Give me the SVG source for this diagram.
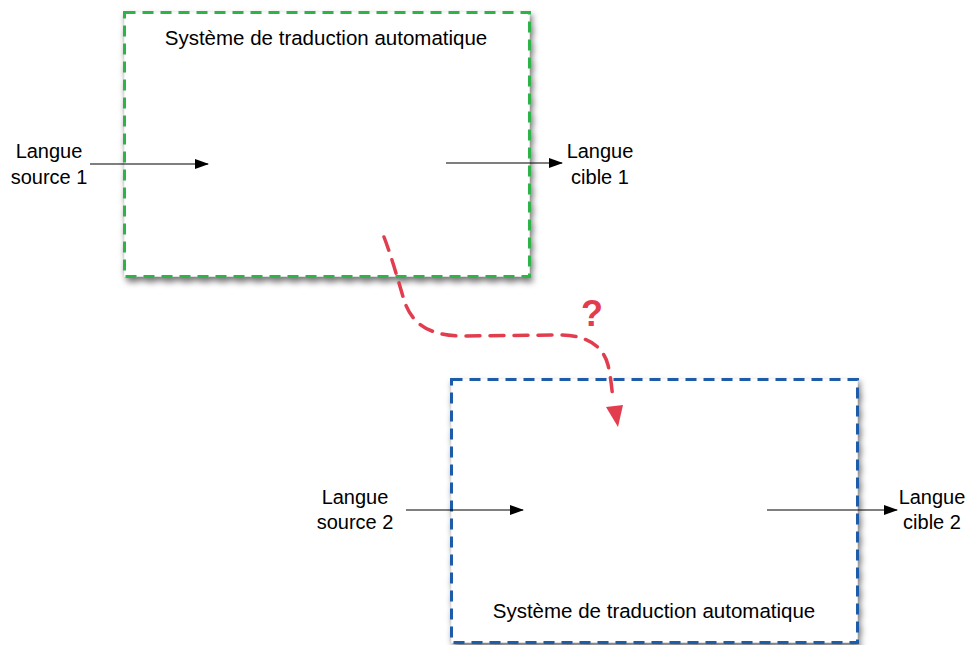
<svg xmlns="http://www.w3.org/2000/svg" width="966" height="645" viewBox="0 0 966 645">
<style>
text{font-family:"Liberation Sans",Arial,sans-serif;font-size:20px;fill:#000}
.box{fill:#fff;stroke-width:3;stroke-dasharray:11 7;filter:url(#sh)}
.ar{stroke:#000;stroke-width:1.2;fill:none;marker-end:url(#ah)}
</style>
<defs>
<filter id="sh" x="-10%" y="-10%" width="125%" height="125%">
<feDropShadow dx="2" dy="4" stdDeviation="3" flood-color="#000" flood-opacity="0.55"/>
</filter>
<marker id="ah" markerWidth="14" markerHeight="10" refX="13" refY="5" orient="auto" markerUnits="userSpaceOnUse">
<path d="M0,0 L14,5 L0,10 Z" fill="#000"/>
</marker>
</defs>
<g id="box1">
<rect class="box" x="124.500" y="12.500" width="405" height="264" stroke="#2db34a"/>
<text x="326" y="45" text-anchor="middle" style="font-size:20.5px">Système de traduction automatique</text>
</g>
<g id="box2">
<rect class="box" x="451.500" y="379.500" width="406" height="263" stroke="#1f5ba8"/>
<text x="654" y="618" text-anchor="middle" style="font-size:20.5px">Système de traduction automatique</text>
</g>
<g id="src1"><text x="49" y="158" text-anchor="middle">Langue</text><text x="49" y="184" text-anchor="middle">source 1</text></g>
<g id="tgt1"><text x="600" y="158" text-anchor="middle">Langue</text><text x="600" y="184" text-anchor="middle">cible 1</text></g>
<g id="src2"><text x="355" y="504" text-anchor="middle">Langue</text><text x="355" y="529" text-anchor="middle">source 2</text></g>
<g id="tgt2"><text x="932" y="504" text-anchor="middle">Langue</text><text x="932" y="529" text-anchor="middle">cible 2</text></g>
<g id="connectors">
<line class="ar" x1="90" y1="164" x2="208" y2="164"/>
<line class="ar" x1="446" y1="163" x2="562" y2="163"/>
<line class="ar" x1="406" y1="510" x2="523" y2="510"/>
<line class="ar" x1="767" y1="510" x2="897" y2="510"/>
<path d="M384,237 C392,258 398,280 404,300 C412,325 430,335 460,336 L560,335 C585,335 603,345 608,365 C611,378 612,390 613,400" fill="none" stroke="#e23d4f" stroke-width="3.5" stroke-dasharray="14 10" stroke-linecap="round"/>
<path d="M606,407 L623,405 L618,427 Z" fill="#e23d4f"/>
<text x="592" y="326" text-anchor="middle" style="font-size:36px;font-weight:bold;fill:#e23d4f">?</text>
</g>
</svg>
